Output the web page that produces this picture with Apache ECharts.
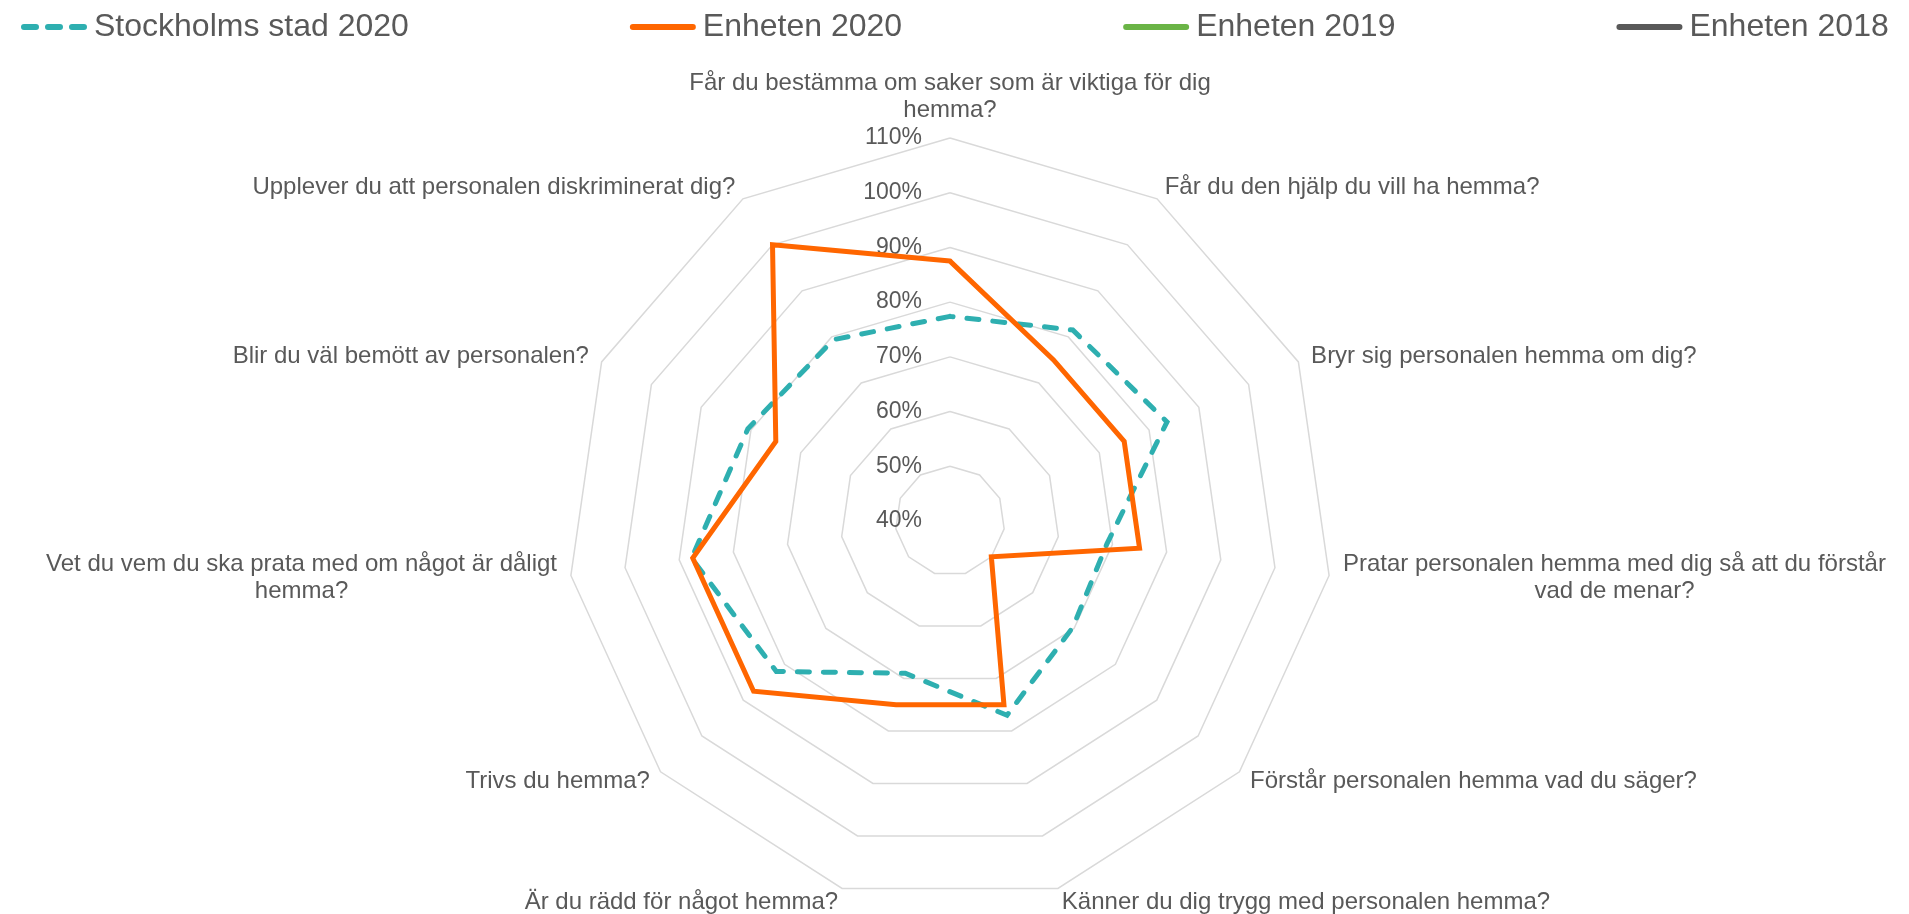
<!DOCTYPE html>
<html>
<head>
<meta charset="utf-8">
<script src="https://cdn.jsdelivr.net/npm/echarts@6.0.0/dist/echarts.min.js"></script>
<style>
    html, body { margin: 0; padding: 0; background: #fff; }
    #main { width: 1909px; height: 914px; }
</style>
</head>
<body>
<div id="main"></div>
<script>
// frågorna, medurs från toppen
var categories = [
    'Får du bestämma om saker som är viktiga för dig\nhemma?',
    'Får du den hjälp du vill ha hemma?',
    'Bryr sig personalen hemma om dig?',
    'Pratar personalen hemma med dig så att du förstår\nvad de menar?',
    'Förstår personalen hemma vad du säger?',
    'Känner du dig trygg med personalen hemma?',
    'Är du rädd för något hemma?',
    'Trivs du hemma?',
    'Vet du vem du ska prata med om något är dåligt\nhemma?',
    'Blir du väl bemött av personalen?',
    'Upplever du att personalen diskriminerat dig?'
];

var stockholm2020 = [77.4, 81.5, 83.6, 69, 69.7, 77, 69, 82, 87.7, 80.6, 79.4];
var enheten2020 = [87.5, 75, 75, 75, 50, 75, 75, 87.5, 87.5, 75, 100];
var enheten2019 = [];
var enheten2018 = [];

var axisMin = 40, axisMax = 110, axisStep = 10;

var font = '"Liberation Sans", Arial, sans-serif';
var textColor = '#595959';

// echarts lägger axlarna moturs, så vänd ordningen (första frågan kvar överst)
var order = [0];
for (var i = categories.length - 1; i >= 1; i--) order.push(i);

function pick(arr) {
    return order.map(function (i) { return arr[i]; });
}

var indicators = order.map(function (i, k) {
    var ind = {name: categories[i], min: axisMin, max: axisMax};
    if (k === 0) {
        ind.axisLabel = {
            show: true,
            color: textColor,
            fontSize: 23,
            fontFamily: font,
            margin: 28,
            formatter: '{value}%'
        };
    }
    return ind;
});

var dashIcon = 'path://M3,0h12a3,3 0 0 1 0,6h-12a3,3 0 0 1 0,-6z'
    + 'M27,0h12a3,3 0 0 1 0,6h-12a3,3 0 0 1 0,-6z'
    + 'M51,0h12a3,3 0 0 1 0,6h-12a3,3 0 0 1 0,-6z';
var lineIcon = 'path://M3,0h60a3,3 0 0 1 0,6h-60a3,3 0 0 1 0,-6z';

function radarSeries(name, values, color, type) {
    return {
        type: 'radar',
        name: name,
        symbol: 'none',
        itemStyle: {color: color},
        lineStyle: {color: color, width: 5, type: type, cap: 'round', join: 'miter'},
        data: values.length ? [{name: name, value: pick(values)}] : []
    };
}

var chart = echarts.init(document.getElementById('main'));

chart.setOption({
    animation: false,
    legend: {
        left: 16,
        top: 6,
        itemWidth: 66,
        itemHeight: 6,
        itemGap: 221,
        selectedMode: false,
        textStyle: {color: textColor, fontSize: 32, fontFamily: font, padding: [0, 0, 0, 2]},
        data: [
            {name: 'Stockholms stad 2020', icon: dashIcon},
            {name: 'Enheten 2020', icon: lineIcon},
            {name: 'Enheten 2019', icon: lineIcon},
            {name: 'Enheten 2018', icon: lineIcon}
        ]
    },
    radar: {
        center: [950, 521],
        radius: 383,
        startAngle: 90,
        splitNumber: (axisMax - axisMin) / axisStep,
        shape: 'polygon',
        nameGap: 14,
        axisName: {
            color: textColor,
            fontSize: 24,
            fontFamily: font,
            lineHeight: 27,
            formatter: function (name) {
                return name.split('\n').map(function (l) { return '{c|' + l + '}'; }).join('\n');
            },
            rich: {
                c: {align: 'center', color: textColor, fontSize: 24, fontFamily: font, lineHeight: 27}
            }
        },
        axisLine: {show: false},
        axisTick: {show: false},
        axisLabel: {show: false},
        splitLine: {lineStyle: {color: '#d9d9d9', width: 1.5}},
        splitArea: {show: false},
        indicator: indicators
    },
    series: [
        radarSeries('Stockholms stad 2020', stockholm2020, '#2EAFB0', [12, 14]),
        radarSeries('Enheten 2020', enheten2020, '#FF6600', 'solid'),
        radarSeries('Enheten 2019', enheten2019, '#6AB446', 'solid'),
        radarSeries('Enheten 2018', enheten2018, '#595959', 'solid')
    ]
});
</script>
</body>
</html>
